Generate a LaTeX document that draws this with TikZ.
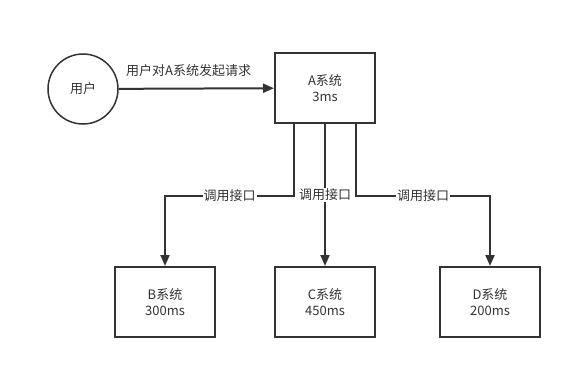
\documentclass[tikz,border=0pt]{standalone}
\usepackage{fontspec}
\setmainfont{Noto Sans CJK SC}
\usetikzlibrary{arrows.meta}
\definecolor{linegray}{HTML}{333333}
\tikzset{
  sysbox/.style={draw=linegray, line width=2pt, minimum width=100pt, minimum height=70pt, align=center, text=linegray},
  userball/.style={draw=linegray, line width=1.5pt, circle, minimum size=70pt, text=linegray},
  callarrow/.style={draw=linegray, line width=2pt, -{Triangle[length=11pt, width=9pt]}},
  calllabel/.style={fill=white, inner sep=1pt, text=linegray},
}
\begin{document}
\begin{tikzpicture}[font=\fontsize{13}{16}\selectfont]
    \useasboundingbox (0,0) rectangle (572pt,-369pt);
    % 用户与A系统
    \node[userball] (user) at (83pt,-89pt) {用户};
    \node[sysbox] (sysA) at (325pt,-88pt) {A系统\\3ms};
    % 下游系统
    \node[sysbox] (sysB) at (165pt,-302pt) {B系统\\300ms};
    \node[sysbox] (sysC) at (325pt,-302pt) {C系统\\450ms};
    \node[sysbox] (sysD) at (490pt,-302pt) {D系统\\200ms};
    % 请求
    \draw[callarrow] (user) -- node[pos=0.45, above=8pt, text=linegray] (req) {用户对A系统发起请求} (sysA);
    % 调用接口
    \draw[callarrow] ([xshift=-31pt]sysA.south) -- ++(0,-72pt) -| node[calllabel, pos=0.25] (callB) {调用接口} (sysB.north);
    \draw[callarrow] (sysA.south) -- node[calllabel, pos=0.5] (callC) {调用接口} (sysC.north);
    \draw[callarrow] ([xshift=31pt]sysA.south) -- ++(0,-72pt) -| node[calllabel, pos=0.25] (callD) {调用接口} (sysD.north);
\end{tikzpicture}
\end{document}
